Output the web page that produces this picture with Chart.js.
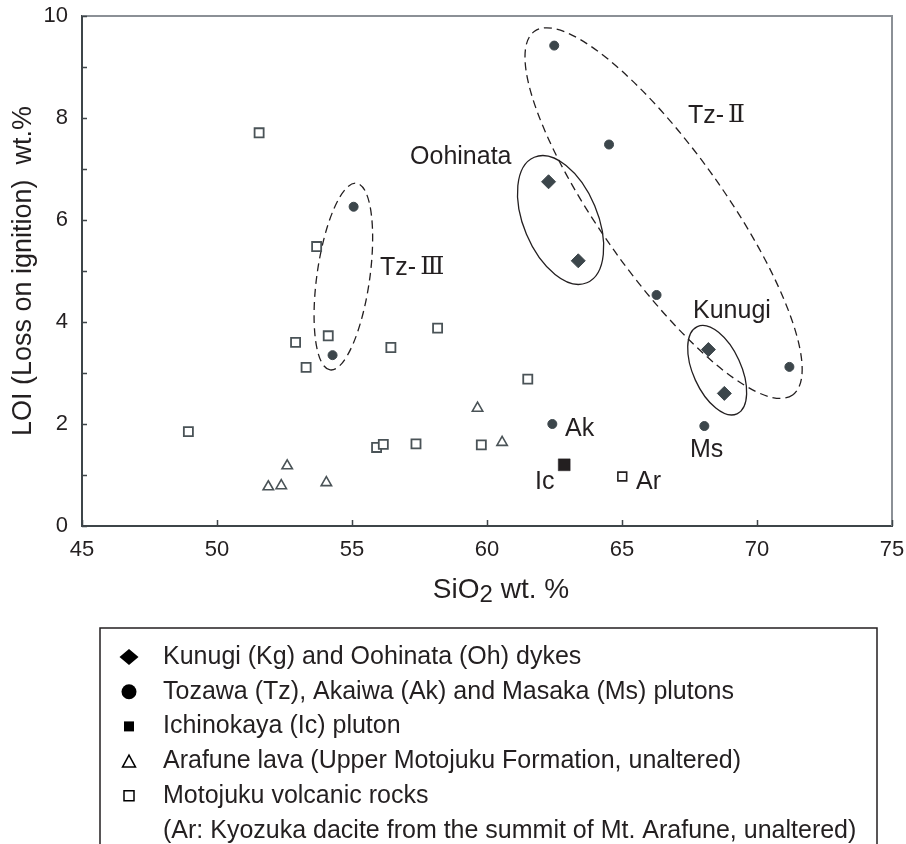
<!DOCTYPE html>
<html>
<head>
<meta charset="utf-8">
<title>LOI vs SiO2</title>
<script src="https://cdn.jsdelivr.net/npm/chart.js@4.4.1/dist/chart.umd.min.js"></script>
<style>
  html, body { margin: 0; padding: 0; background: #ffffff; }
  #wrap { width: 906px; height: 844px; }
</style>
</head>
<body>
<div id="wrap"><canvas id="chart" width="906" height="844"></canvas></div>
<script>
// ---- Measurements: SiO2 (wt.%) and loss on ignition (wt.%) per rock group ----
const dykeSiO2 = [62.28, 63.38, 68.20, 68.79];
const dykeLOI  = [6.75, 5.20, 3.46, 2.60];

const plutonSiO2 = [55.06, 54.28, 62.49, 64.52, 66.28, 71.20, 62.42, 68.05];
const plutonLOI  = [6.26, 3.35, 9.42, 7.48, 4.53, 3.12, 2.00, 1.96];

const ichinokayaSiO2 = [62.86];
const ichinokayaLOI  = [1.20];

const arafuneSiO2 = [51.90, 52.38, 52.60, 54.05, 59.65, 60.56];
const arafuneLOI  = [0.77, 0.79, 1.18, 0.85, 2.31, 1.64];

const motojukuSiO2 = [51.56, 53.69, 52.91, 54.12, 53.30, 56.44, 58.17, 48.94, 55.91, 56.16, 57.37, 61.51, 59.79];
const motojukuLOI  = [7.71, 5.48, 3.60, 3.73, 3.11, 3.50, 3.88, 1.85, 1.54, 1.60, 1.61, 2.88, 1.59];

const kyozukaSiO2 = [65.01];
const kyozukaLOI  = [0.97];

// ---- Axis ticks ----
const xTickValues = [45, 50, 55, 60, 65, 70, 75];
const yTickMarks  = [0, 1, 2, 3, 4, 5, 6, 7, 8, 9, 10];
const yTickLabels = [0, 2, 4, 6, 8, 10];

// ---- Group outlines: major axis end points (SiO2, LOI), width/length ratio ----
const outlineFrom  = [[55.17, 6.72], [61.76, 9.70], [61.75, 7.23], [67.79, 3.91]];
const outlineTo    = [[54.19, 3.06], [71.32, 2.57], [63.70, 4.77], [69.26, 2.20]];
const outlineRatio = [0.28, 0.278, 0.544, 0.50];
const outlineDash  = [true, true, false, false];

// ---- Text notes placed at (SiO2, LOI), left-anchored ----
const noteText = ['Oohinata', 'Tz-\u2161', 'Tz-\u2162', 'Kunugi', 'Ak', 'Ms', 'Ic', 'Ar'];
const noteAt   = [[57.15, 7.24], [67.44, 8.04], [56.04, 5.06], [67.63, 4.22],
                  [62.89, 1.90], [67.52, 1.48], [61.78, 0.87], [65.52, 0.87]];

// ---- Styling ----
const FONT = '"Liberation Sans", Arial, Helvetica, sans-serif';
const NUMERAL_FONT = '"DejaVu Serif", "Noto Sans CJK JP", serif';
const INK = '#231f20';
const MARK = '#3c464b';
const MARK_LINE = '#4a5357';
const AXIS_DARK = '#3e4549';
const AXIS_LIGHT = '#8b9096';

const pairs = (xs, ys) => xs.map((v, i) => ({ x: v, y: ys[i] }));

const datasets = [
  { label: 'Kunugi (Kg) and Oohinata (Oh) dykes', data: pairs(dykeSiO2, dykeLOI),
    pointStyle: 'rectRot', pointRadius: 7, pointBackgroundColor: MARK, pointBorderColor: MARK, pointBorderWidth: 1,
    legendMarker: 'diamond' },
  { label: 'Tozawa (Tz), Akaiwa (Ak) and Masaka (Ms) plutons', data: pairs(plutonSiO2, plutonLOI),
    pointStyle: 'circle', pointRadius: 4.5, pointBackgroundColor: MARK, pointBorderColor: MARK, pointBorderWidth: 1,
    legendMarker: 'dot' },
  { label: 'Ichinokaya (Ic) pluton', data: pairs(ichinokayaSiO2, ichinokayaLOI),
    pointStyle: 'rect', pointRadius: 8.4, pointBackgroundColor: INK, pointBorderColor: INK, pointBorderWidth: 0.5,
    legendMarker: 'block' },
  { label: 'Arafune lava (Upper Motojuku Formation, unaltered)', data: pairs(arafuneSiO2, arafuneLOI),
    pointStyle: 'triangle', pointRadius: 6, pointBackgroundColor: '#ffffff', pointBorderColor: MARK_LINE, pointBorderWidth: 1.6,
    legendMarker: 'triangle' },
  { label: ['Motojuku volcanic rocks', '(Ar: Kyozuka dacite from the summit of Mt. Arafune, unaltered)'],
    data: pairs(motojukuSiO2, motojukuLOI),
    pointStyle: 'rect', pointRadius: 6.4, pointBackgroundColor: '#ffffff', pointBorderColor: MARK_LINE, pointBorderWidth: 1.8,
    legendMarker: 'box' },
  { label: 'Kyozuka dacite (Ar)', data: pairs(kyozukaSiO2, kyozukaLOI),
    pointStyle: 'rect', pointRadius: 6.2, pointBackgroundColor: '#ffffff', pointBorderColor: INK, pointBorderWidth: 1.6,
    legendMarker: null }
];

// Draw a string, switching face for Roman-numeral characters
function drawRuns(ctx, text, x, y, size) {
  const runs = [];
  for (const ch of text) {
    const roman = /[\u2160-\u217F]/.test(ch);
    if (runs.length && runs[runs.length - 1].roman === roman) runs[runs.length - 1].s += ch;
    else runs.push({ s: ch, roman });
  }
  let cx = x;
  runs.forEach(r => {
    ctx.font = size + 'px ' + (r.roman ? NUMERAL_FONT : FONT);
    if (r.roman) cx += 4;
    ctx.fillText(r.s, cx, y);
    cx += ctx.measureText(r.s).width;
  });
}

// Frame, inward tick marks and group outlines
const framePlugin = {
  id: 'frameAndOutlines',
  beforeDatasetsDraw(chart) {
    const { ctx, chartArea: a, scales: { x, y } } = chart;
    ctx.save();
    ctx.strokeStyle = AXIS_LIGHT;
    ctx.lineWidth = 2;
    ctx.beginPath();
    ctx.moveTo(a.left, a.top);
    ctx.lineTo(a.right, a.top);
    ctx.lineTo(a.right, a.bottom);
    ctx.stroke();

    ctx.strokeStyle = AXIS_DARK;
    ctx.lineWidth = 1.5;
    ctx.beginPath();
    x.ticks.forEach(t => {
      const px = Math.round(x.getPixelForValue(t.value)) + 0.5;
      ctx.moveTo(px, a.bottom);
      ctx.lineTo(px, a.bottom - 6);
    });
    y.ticks.forEach(t => {
      const py = Math.round(y.getPixelForValue(t.value)) + 0.5;
      ctx.moveTo(a.left, py);
      ctx.lineTo(a.left + 5, py);
    });
    ctx.stroke();

    ctx.strokeStyle = INK;
    ctx.lineWidth = 1.3;
    outlineFrom.forEach((p, i) => {
      const q = outlineTo[i];
      const x1 = x.getPixelForValue(p[0]), y1 = y.getPixelForValue(p[1]);
      const x2 = x.getPixelForValue(q[0]), y2 = y.getPixelForValue(q[1]);
      const half = Math.hypot(x2 - x1, y2 - y1) / 2;
      ctx.setLineDash(outlineDash[i] ? [8, 5] : []);
      ctx.beginPath();
      ctx.ellipse((x1 + x2) / 2, (y1 + y2) / 2, half, half * outlineRatio[i],
                  Math.atan2(y2 - y1, x2 - x1), 0, Math.PI * 2);
      ctx.stroke();
    });
    ctx.restore();
  },
  afterDatasetsDraw(chart) {
    const { ctx, scales: { x, y } } = chart;
    ctx.save();
    ctx.fillStyle = INK;
    ctx.textAlign = 'left';
    ctx.textBaseline = 'middle';
    noteText.forEach((t, i) => {
      drawRuns(ctx, t, x.getPixelForValue(noteAt[i][0]), y.getPixelForValue(noteAt[i][1]), 25);
    });
    ctx.restore();
  }
};

// Horizontal axis title with subscript
const xTitlePlugin = {
  id: 'xTitle',
  afterDraw(chart) {
    const { ctx, chartArea: a } = chart;
    const parts = [
      { s: 'SiO', size: 28, dy: 0 },
      { s: '2', size: 24, dy: 4 },
      { s: ' wt. %', size: 28, dy: 0 }
    ];
    ctx.save();
    ctx.fillStyle = INK;
    ctx.textBaseline = 'alphabetic';
    ctx.textAlign = 'left';
    let total = 0;
    parts.forEach(p => { ctx.font = p.size + 'px ' + FONT; p.w = ctx.measureText(p.s).width; total += p.w; });
    let cx = (a.left + a.right) / 2 + 14 - total / 2;
    const base = a.bottom + 72;
    parts.forEach(p => {
      ctx.font = p.size + 'px ' + FONT;
      ctx.fillText(p.s, cx, base + p.dy);
      cx += p.w;
    });
    ctx.restore();
  }
};

// Boxed legend below the plot
const legendPlugin = {
  id: 'boxLegend',
  afterDraw(chart) {
    const { ctx } = chart;
    const left = 100, top = 628, right = 877;
    const textX = 163, markX = 129, firstBase = 664, step = 34.7;
    ctx.save();
    ctx.strokeStyle = INK;
    ctx.lineWidth = 1.5;
    ctx.beginPath();
    ctx.moveTo(left, chart.height + 4);
    ctx.lineTo(left, top);
    ctx.lineTo(right, top);
    ctx.lineTo(right, chart.height + 4);
    ctx.stroke();

    let row = 0;
    chart.data.datasets.forEach(ds => {
      if (!ds.legendMarker) return;
      const base = firstBase + row * step;
      const my = base - 7;
      ctx.fillStyle = '#000000';
      ctx.strokeStyle = '#000000';
      ctx.lineWidth = 1.5;
      ctx.beginPath();
      switch (ds.legendMarker) {
        case 'diamond':
          ctx.moveTo(markX, my - 8); ctx.lineTo(markX + 9.5, my); ctx.lineTo(markX, my + 8); ctx.lineTo(markX - 9.5, my);
          ctx.closePath(); ctx.fill(); break;
        case 'dot':
          ctx.arc(markX, my, 7.5, 0, Math.PI * 2); ctx.fill(); break;
        case 'block':
          ctx.rect(markX - 5, my - 5, 10, 10); ctx.fill(); break;
        case 'triangle':
          ctx.moveTo(markX, my - 6); ctx.lineTo(markX + 6.5, my + 6); ctx.lineTo(markX - 6.5, my + 6);
          ctx.closePath(); ctx.stroke(); break;
        case 'box':
          ctx.rect(markX - 5, my - 5, 10, 10); ctx.stroke(); break;
      }
      ctx.fillStyle = INK;
      ctx.font = '25px ' + FONT;
      ctx.textAlign = 'left';
      ctx.textBaseline = 'alphabetic';
      const lines = Array.isArray(ds.label) ? ds.label : [ds.label];
      lines.forEach((l, k) => ctx.fillText(l, textX, base + k * step));
      row += lines.length;
    });
    ctx.restore();
  }
};

new Chart(document.getElementById('chart'), {
  type: 'scatter',
  data: { datasets },
  options: {
    responsive: false,
    animation: false,
    events: [],
    layout: { padding: { top: 16, right: 14, bottom: 228, left: 0 } },
    plugins: { legend: { display: false }, tooltip: { enabled: false } },
    scales: {
      x: {
        type: 'linear', min: 45, max: 75,
        afterFit(s) { s.height = 90; s.paddingLeft = 0; s.paddingRight = 0; },
        afterBuildTicks(s) { s.ticks = xTickValues.map(v => ({ value: v })); },
        ticks: { font: { family: FONT, size: 22 }, color: INK, padding: 11, autoSkip: false, maxRotation: 0,
                 callback: v => String(v) },
        grid: { display: true, drawOnChartArea: false, drawTicks: false },
        border: { display: true, color: AXIS_DARK, width: 2 }
      },
      y: {
        type: 'linear', min: 0, max: 10,
        afterFit(s) { s.width = 82; s.paddingTop = 0; s.paddingBottom = 0; },
        afterBuildTicks(s) { s.ticks = yTickMarks.map(v => ({ value: v })); },
        ticks: { font: { family: FONT, size: 22 }, color: INK, padding: 14, autoSkip: false,
                 callback: v => (yTickLabels.includes(v) ? String(v) : '') },
        grid: { display: true, drawOnChartArea: false, drawTicks: false },
        border: { display: true, color: AXIS_DARK, width: 2 },
        title: { display: true, text: 'LOI (Loss on ignition)  wt.%', color: INK,
                 font: { family: FONT, size: 27 }, padding: { top: 7, bottom: 0 } }
      }
    }
  },
  plugins: [framePlugin, xTitlePlugin, legendPlugin]
});
</script>
</body>
</html>
